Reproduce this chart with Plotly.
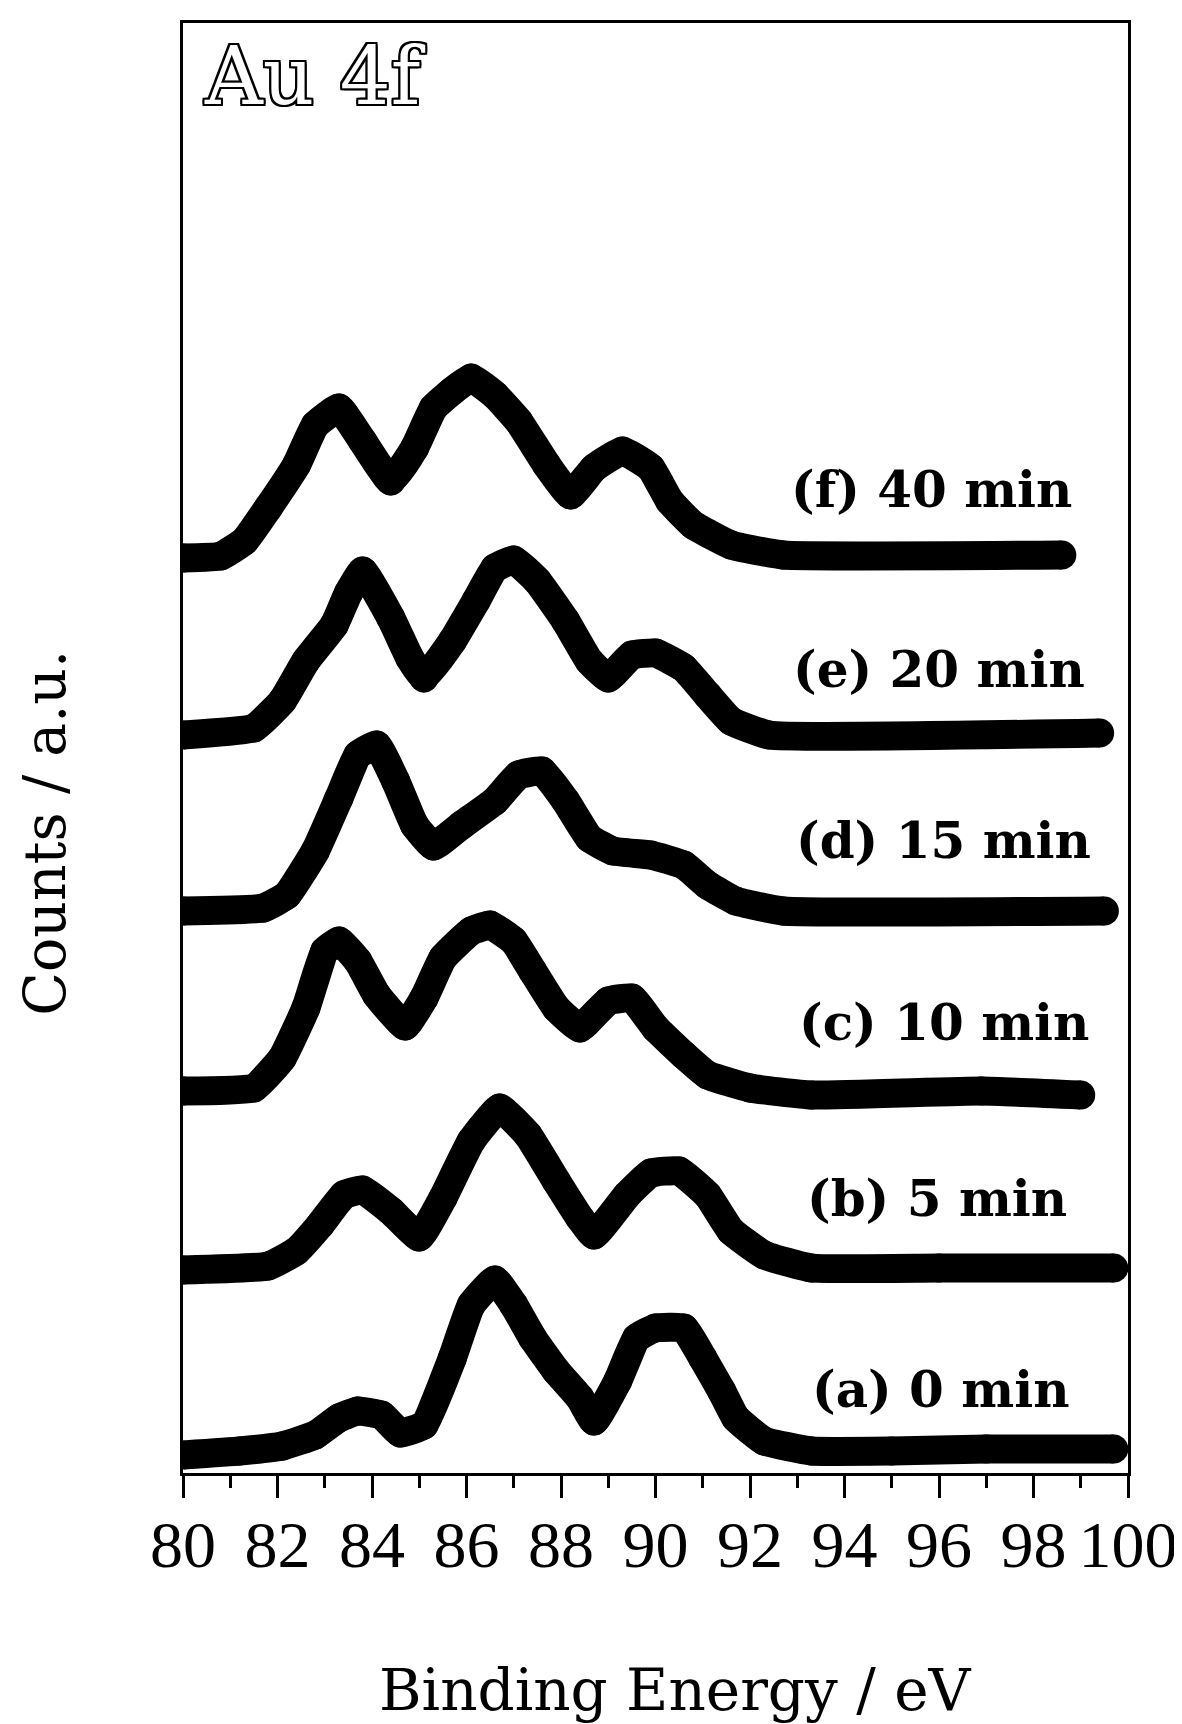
import plotly.graph_objects as go

# ---- data (counts in a.u., vertically stacked) ----
energy_a = [80.0, 81.2, 82.1, 82.8, 83.3, 83.7, 84.2, 84.6, 85.1, 85.7, 86.1, 86.6, 87.0, 87.4, 87.9,
            88.4, 88.7, 89.2, 89.6, 90.0, 90.6, 91.0, 91.4, 91.7, 92.3, 93.3, 95.0, 97.0, 99.7]
counts_a = [18, 22, 27, 38, 55, 62, 58, 40, 48, 115, 168, 193, 168, 135, 102,
            75, 52, 92, 135, 145, 145, 115, 82, 55, 32, 22, 22, 24, 24]

energy_b = [80.0, 81.8, 82.4, 82.9, 83.4, 83.8, 84.4, 85.0, 85.5, 86.1, 86.7, 87.3, 87.9, 88.4,
            88.7, 89.4, 89.9, 90.5, 91.1, 91.6, 92.3, 93.3, 96.0, 99.7]
counts_b = [203, 207, 222, 248, 278, 283, 262, 236, 275, 332, 365, 338, 292, 255,
            238, 278, 300, 302, 278, 242, 218, 205, 205, 205]

energy_c = [80.0, 81.5, 82.1, 82.6, 83.0, 83.3, 83.7, 84.1, 84.7, 85.1, 85.5, 86.1, 86.5, 87.0,
            87.4, 87.9, 88.4, 89.0, 89.5, 90.0, 90.6, 91.1, 92.0, 93.3, 96.9, 99.0]
counts_c = [382, 385, 415, 465, 522, 532, 512, 478, 447, 475, 515, 542, 548, 532,
            502, 465, 445, 472, 475, 445, 418, 398, 385, 378, 382, 378]

energy_d = [80.0, 81.7, 82.2, 82.8, 83.3, 83.7, 84.1, 84.5, 84.9, 85.3, 85.9, 86.6, 87.1, 87.6,
            88.1, 88.6, 89.1, 89.9, 90.6, 91.1, 91.7, 92.7, 99.5]
counts_d = [562, 565, 578, 622, 675, 718, 728, 692, 648, 627, 648, 672, 698, 702,
            672, 635, 622, 618, 608, 588, 572, 562, 562]

energy_e = [80.0, 81.5, 82.1, 82.6, 83.2, 83.5, 83.8, 84.4, 84.8, 85.1, 85.7, 86.2, 86.6, 87.0,
            87.5, 88.1, 88.6, 89.0, 89.5, 90.0, 90.6, 91.1, 91.6, 92.4, 99.4]
counts_e = [738, 745, 772, 812, 848, 880, 902, 855, 815, 795, 832, 872, 905, 913,
            892, 852, 812, 795, 818, 820, 805, 778, 752, 738, 740]

energy_f = [80.0, 80.8, 81.3, 81.8, 82.4, 82.8, 83.3, 83.8, 84.4, 84.9, 85.3, 85.7, 86.1, 86.6,
            87.1, 87.7, 88.2, 88.7, 89.3, 89.9, 90.3, 90.8, 91.6, 92.7, 98.6]
counts_f = [915, 917, 932, 965, 1008, 1048, 1065, 1032, 992, 1025, 1065, 1082, 1095, 1078,
            1052, 1008, 978, 1005, 1022, 1005, 972, 948, 928, 918, 918]

series_labels = ["(a) 0 min", "(b) 5 min", "(c) 10 min", "(d) 15 min", "(e) 20 min", "(f) 40 min"]
tick_values = [80, 82, 84, 86, 88, 90, 92, 94, 96, 98, 100]
tick_text = ["80", "82", "84", "86", "88", "90", "92", "94", "96", "98", "100"]

series = [(energy_a, counts_a), (energy_b, counts_b), (energy_c, counts_c),
          (energy_d, counts_d), (energy_e, counts_e), (energy_f, counts_f)]

# label anchor positions (x in eV, y in a.u.)
label_pos = [(96.05, 84), (95.95, 275), (96.1, 451), (96.1, 633), (96.0, 804), (95.85, 984)]

fig = go.Figure()
for (ex, cy), name in zip(series, series_labels):
    fig.add_trace(go.Scatter(
        x=ex, y=cy, mode="lines+markers", name=name,
        line=dict(color="#000000", width=29, shape="spline", smoothing=0.35),
        marker=dict(color="#000000", size=29),
        showlegend=False, hoverinfo="skip", cliponaxis=True,
    ))

for name, (lx, ly) in zip(series_labels, label_pos):
    fig.add_annotation(x=lx, y=ly, xref="x", yref="y", text=name, showarrow=False,
                       font=dict(family="DejaVu Serif", size=50, color="#000000", weight="bold"),
                       xanchor="center", yanchor="middle")

L, R, T, B = 175, 1125, 15, 1465
W, H = R - L, B - T

def px(xp):
    return (xp - L) / W

def py(yp):
    return (B - yp) / H

fig.add_annotation(x=px(670), y=py(1682), xref="paper", yref="paper",
                   text="Binding Energy / eV", showarrow=False,
                   font=dict(family="DejaVu Serif", size=58, color="#000000"),
                   xanchor="center", yanchor="middle")
fig.add_annotation(x=px(36), y=py(825), xref="paper", yref="paper",
                   text="Counts / a.u.", showarrow=False, textangle=-90,
                   font=dict(family="DejaVu Serif", size=57, color="#000000"),
                   xanchor="center", yanchor="middle")
fig.add_annotation(x=px(308), y=py(68), xref="paper", yref="paper",
                   text="Au 4f", showarrow=False,
                   font=dict(family="DejaVu Serif", size=80, color="#ffffff",
                             shadow="-2px -2px 0 #000, 2px -2px 0 #000, -2px 2px 0 #000, 2px 2px 0 #000, 0 2px 0 #000, 0 -2px 0 #000, 2px 0 0 #000, -2px 0 0 #000"),
                   xanchor="center", yanchor="middle")

fig.update_xaxes(range=[80, 100], tickmode="array", tickvals=tick_values, ticktext=tick_text,
                 ticks="outside", ticklen=22, tickwidth=3, tickcolor="#000000",
                 showline=True, linecolor="#000000", linewidth=3, mirror=True,
                 showgrid=False, zeroline=False, tickangle=0,
                 tickfont=dict(family="Liberation Serif", size=66, color="#000000"),
                 ticklabelstandoff=-10,
                 minor=dict(tickvals=list(range(81, 100, 2)), ticks="outside", ticklen=12,
                            tickwidth=3, tickcolor="#000000", showgrid=False))
fig.update_yaxes(range=[0, H], showticklabels=False, ticks="",
                 showline=True, linecolor="#000000", linewidth=3, mirror=True,
                 showgrid=False, zeroline=False)

fig.update_layout(width=1182, height=1724,
                  margin=dict(l=L, r=1182 - R, t=T, b=1724 - B),
                  paper_bgcolor="#ffffff", plot_bgcolor="#ffffff")

fig.write_html("out.html")
